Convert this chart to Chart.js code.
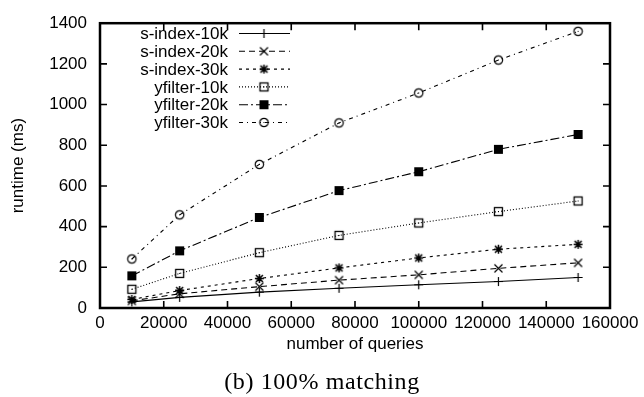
<!DOCTYPE html>
<html>
<head>
<meta charset="utf-8">
<script src="https://cdn.jsdelivr.net/npm/chart.js@4.4.1/dist/chart.umd.min.js"></script>
<style>
  html, body { margin: 0; padding: 0; background: #fff; }
  #wrap { position: relative; width: 644px; height: 397px; }
  #caption {
    position: absolute; left: 0; top: 369px; width: 644px;
    text-align: center; font-family: "Liberation Serif", serif;
    font-size: 24px; line-height: 24px; letter-spacing: 0.6px; color: #000;
  }
</style>
</head>
<body>
<div id="wrap">
  <canvas id="runtimeChart" width="644" height="397"></canvas>
  <div id="caption">(b) 100% matching</div>
</div>
<script>
// number of queries
const queries = [10000, 25000, 50000, 75000, 100000, 125000, 150000];

// runtime (ms)
const sIndex10k = [30, 52, 78, 97, 114, 130, 150];
const sIndex20k = [35, 70, 105, 137, 163, 195, 222];
const sIndex30k = [42, 86, 145, 197, 246, 289, 313];
const yfilter10k = [92, 170, 272, 357, 418, 474, 526];
const yfilter20k = [158, 281, 445, 577, 670, 780, 853];
const yfilter30k = [241, 458, 706, 910, 1057, 1219, 1360];

const xTicks = [0, 20000, 40000, 60000, 80000, 100000, 120000, 140000, 160000];
const yTicks = [0, 200, 400, 600, 800, 1000, 1200, 1400];

const FONT = "'Liberation Sans', Arial, sans-serif";

// gnuplot-like point markers
function marker(draw) {
  const c = document.createElement("canvas");
  c.width = 13;
  c.height = 13;
  const g = c.getContext("2d");
  g.strokeStyle = "#000";
  g.fillStyle = "#000";
  g.lineWidth = 1.2;
  draw(g);
  return c;
}
const plus = marker((g) => {
  g.beginPath();
  g.moveTo(2, 6.5); g.lineTo(11, 6.5);
  g.moveTo(6.5, 2); g.lineTo(6.5, 11);
  g.stroke();
});
const cross = marker((g) => {
  g.beginPath();
  g.moveTo(2.5, 2.5); g.lineTo(10.5, 10.5);
  g.moveTo(10.5, 2.5); g.lineTo(2.5, 10.5);
  g.stroke();
});
const star = marker((g) => {
  g.lineWidth = 1.5;
  g.beginPath();
  g.moveTo(2, 6.5); g.lineTo(11, 6.5);
  g.moveTo(6.5, 2); g.lineTo(6.5, 11);
  g.moveTo(3, 3); g.lineTo(10, 10);
  g.moveTo(10, 3); g.lineTo(3, 10);
  g.stroke();
});
const openSquare = marker((g) => {
  g.lineWidth = 1.3;
  g.strokeRect(2.5, 2.5, 8, 8);
  g.fillRect(6, 6, 1, 1);
});
const filledSquare = marker((g) => {
  g.fillRect(2, 2, 9, 9);
});
const openCircle = marker((g) => {
  g.lineWidth = 1.2;
  g.beginPath();
  g.arc(6.5, 6.5, 4.2, 0, Math.PI * 2);
  g.stroke();
  g.fillRect(6, 6, 1, 1);
});

function series(label, values, dash, point) {
  return {
    label: label,
    data: queries.map((q, i) => ({ x: q, y: values[i] })),
    borderColor: "#000",
    backgroundColor: "#000",
    borderWidth: 1.1,
    borderDash: dash,
    pointStyle: point,
    pointRadius: 6,
    fill: false,
    tension: 0,
  };
}

// legend drawn gnuplot-style: right aligned text, then line sample
const gnuLegend = {
  id: "gnuLegend",
  afterDatasetsDraw(chart) {
    const ctx = chart.ctx;
    ctx.save();
    ctx.font = "17px " + FONT;
    ctx.textAlign = "right";
    ctx.textBaseline = "middle";
    chart.data.datasets.forEach((ds, i) => {
      const y = 33.5 + i * 17.8;
      ctx.fillStyle = "#000";
      ctx.fillText(ds.label, 228, y + 1);
      ctx.strokeStyle = "#000";
      ctx.lineWidth = ds.borderWidth;
      ctx.setLineDash(ds.borderDash);
      ctx.beginPath();
      ctx.moveTo(239, y);
      ctx.lineTo(290, y);
      ctx.stroke();
      ctx.setLineDash([]);
      ctx.drawImage(ds.pointStyle, 264 - 6.5, y - 6.5);
    });
    ctx.restore();
  },
};

// border box and inward ticks on all four sides
const frame = {
  id: "frame",
  afterDatasetsDraw(chart) {
    const { ctx, chartArea: a, scales } = chart;
    ctx.save();
    ctx.strokeStyle = "#000";
    ctx.lineWidth = 1.6;
    ctx.beginPath();
    xTicks.forEach((v) => {
      const px = scales.x.getPixelForValue(v);
      ctx.moveTo(px, a.bottom); ctx.lineTo(px, a.bottom - 7);
      ctx.moveTo(px, a.top); ctx.lineTo(px, a.top + 7);
    });
    yTicks.forEach((v) => {
      const py = scales.y.getPixelForValue(v);
      ctx.moveTo(a.left, py); ctx.lineTo(a.left + 7, py);
      ctx.moveTo(a.right, py); ctx.lineTo(a.right - 7, py);
    });
    ctx.stroke();
    ctx.lineWidth = 2.5;
    ctx.strokeRect(a.left, a.top, a.right - a.left, a.bottom - a.top);
    ctx.restore();
  },
};

new Chart(document.getElementById("runtimeChart"), {
  type: "line",
  data: {
    datasets: [
      series("s-index-10k", sIndex10k, [], plus),
      series("s-index-20k", sIndex20k, [6, 4], cross),
      series("s-index-30k", sIndex30k, [3, 4], star),
      series("yfilter-10k", yfilter10k, [1, 2], openSquare),
      series("yfilter-20k", yfilter20k, [9, 3, 2, 3], filledSquare),
      series("yfilter-30k", yfilter30k, [4, 4, 1, 4], openCircle),
    ],
  },
  options: {
    responsive: false,
    animation: false,
    layout: { padding: { top: 15, right: 34, left: 0, bottom: 0 } },
    plugins: {
      legend: { display: false },
      tooltip: { enabled: false },
    },
    scales: {
      x: {
        type: "linear",
        min: 0,
        max: 160000,
        afterFit: (s) => { s.height = 89; },
        afterBuildTicks: (s) => { s.ticks = xTicks.map((v) => ({ value: v })); },
        grid: { display: false, drawTicks: false },
        border: { display: false },
        ticks: {
          color: "#000",
          padding: 5,
          maxRotation: 0,
          autoSkip: false,
          font: { family: FONT, size: 17 },
          callback: (v) => String(v),
        },
        title: {
          display: true,
          text: "number of queries",
          color: "#000",
          font: { family: FONT, size: 17 },
          padding: { top: 0, bottom: 42 },
        },
      },
      y: {
        min: 0,
        max: 1400,
        afterFit: (s) => { s.width = 100; },
        afterBuildTicks: (s) => { s.ticks = yTicks.map((v) => ({ value: v })); },
        grid: { display: false, drawTicks: false },
        border: { display: false },
        ticks: {
          color: "#000",
          padding: 13,
          font: { family: FONT, size: 17 },
          callback: (v) => String(v),
        },
        title: {
          display: true,
          text: "runtime (ms)",
          color: "#000",
          font: { family: FONT, size: 17 },
          padding: { top: 8, bottom: 0 },
        },
      },
    },
  },
  plugins: [frame, gnuLegend],
});
</script>
</body>
</html>
